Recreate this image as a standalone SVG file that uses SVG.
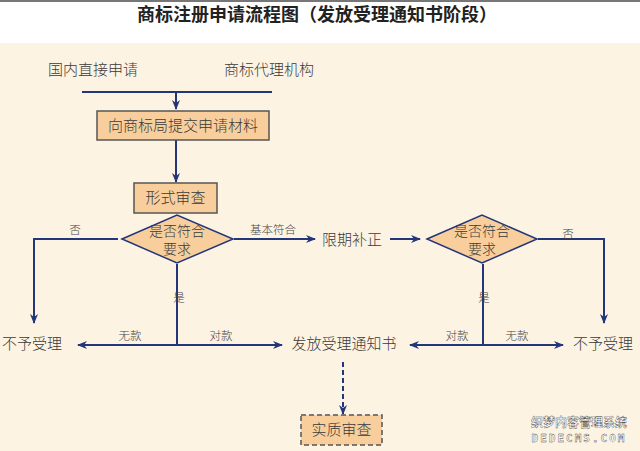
<svg xmlns="http://www.w3.org/2000/svg" width="640" height="451" viewBox="0 0 640 451">
<defs>
<marker id="arr" viewBox="0 0 10 10" refX="9" refY="5" markerWidth="10" markerHeight="10" markerUnits="userSpaceOnUse" orient="auto">
<path d="M0,1 L10,5 L0,9 L3,5 Z" fill="#23367a"/>
</marker>
<style>
.t{font-family:"Liberation Serif","Noto Sans CJK SC",serif;fill:#3a3a3a;font-weight:300;}
.n{font-size:15px;}
.d{font-size:14px;}
.s{font-size:11.5px;fill:#444;}
.ln{stroke:#23367a;stroke-width:2;fill:none;}
.bx{fill:#f8cf9c;stroke:#555;stroke-width:1.5;}
.dm{fill:#f8cf9c;stroke:#23367a;stroke-width:1.5;}
</style>
</defs>
<rect x="0" y="0" width="640" height="451" fill="#ffffff"/>
<rect x="0" y="0" width="640" height="2" fill="#777"/>
<rect x="0" y="43" width="640" height="408" fill="#fdf3e3"/>
<text x="317" y="21" text-anchor="middle" font-family="Liberation Serif,Noto Sans CJK SC,serif" font-size="18" font-weight="bold" fill="#222">商标注册申请流程图（发放受理通知书阶段）</text>

<g id="connectors">
<line class="ln" x1="82" y1="92" x2="272" y2="92" stroke="#555a80"/>
<line class="ln" x1="176" y1="92" x2="176" y2="109" marker-end="url(#arr)"/>
<line class="ln" x1="176" y1="140" x2="176" y2="182" marker-end="url(#arr)"/>
<polyline class="ln" points="118,239 34,239 34,323" marker-end="url(#arr)"/>
<line class="ln" x1="234" y1="239" x2="315" y2="239" marker-end="url(#arr)"/>
<line class="ln" x1="390" y1="239" x2="420" y2="239" marker-end="url(#arr)"/>
<polyline class="ln" points="538,239 604,239 604,323" marker-end="url(#arr)"/>
<line class="ln" x1="177" y1="264" x2="177" y2="345"/>
<line class="ln" x1="177" y1="345" x2="78" y2="345" marker-end="url(#arr)"/>
<line class="ln" x1="177" y1="345" x2="282" y2="345" marker-end="url(#arr)"/>
<line class="ln" x1="483" y1="264" x2="483" y2="345"/>
<line class="ln" x1="483" y1="345" x2="410" y2="345" marker-end="url(#arr)"/>
<line class="ln" x1="483" y1="345" x2="563" y2="345" marker-end="url(#arr)"/>
<line class="ln" x1="343" y1="362" x2="343" y2="414" stroke-dasharray="5,3" marker-end="url(#arr)"/>
<text class="t s" x="75" y="234" text-anchor="middle">否</text>
<text class="t s" x="273" y="234" text-anchor="middle">基本符合</text>
<text class="t s" x="568" y="238" text-anchor="middle">否</text>
<text class="t s" x="179" y="302" text-anchor="middle">是</text>
<text class="t s" x="484" y="302" text-anchor="middle">是</text>
<text class="t s" x="130" y="340" text-anchor="middle">无款</text>
<text class="t s" x="221" y="340" text-anchor="middle">对款</text>
<text class="t s" x="457" y="340" text-anchor="middle">对款</text>
<text class="t s" x="517" y="340" text-anchor="middle">无款</text>
</g>

<g id="src1"><text class="t n" x="93" y="75" text-anchor="middle">国内直接申请</text></g>
<g id="src2"><text class="t n" x="269" y="75" text-anchor="middle">商标代理机构</text></g>
<g id="submit">
<rect class="bx" x="97" y="111" width="172" height="29"/>
<text class="t n" x="183" y="131" text-anchor="middle">向商标局提交申请材料</text>
</g>
<g id="formal">
<rect class="bx" x="134" y="183" width="83" height="30"/>
<text class="t n" x="175.5" y="203" text-anchor="middle">形式审查</text>
</g>
<g id="check1">
<polygon class="dm" points="122,239 177,215 233,239 177,263"/>
<text class="t d" x="177" y="236" text-anchor="middle">是否符合</text>
<text class="t d" x="177" y="254" text-anchor="middle">要求</text>
</g>
<g id="correct"><text class="t n" x="352" y="245" text-anchor="middle">限期补正</text></g>
<g id="check2">
<polygon class="dm" points="427,239 482,215 537,239 482,263"/>
<text class="t d" x="482" y="236" text-anchor="middle">是否符合</text>
<text class="t d" x="482" y="254" text-anchor="middle">要求</text>
</g>
<g id="reject1"><text class="t n" x="32" y="349" text-anchor="middle">不予受理</text></g>
<g id="notice"><text class="t n" x="344" y="349" text-anchor="middle">发放受理通知书</text></g>
<g id="reject2"><text class="t n" x="603" y="349" text-anchor="middle">不予受理</text></g>
<g id="substantive">
<rect class="bx" x="301" y="415" width="81" height="30" stroke-dasharray="5,3"/>
<text class="t n" x="341.5" y="435" text-anchor="middle">实质审查</text>
</g>
<g id="watermark">
<text x="579" y="427" text-anchor="middle" font-family="Noto Sans CJK SC,sans-serif" font-size="12" font-weight="bold" fill="#fff" stroke="#333" stroke-width="0.35">织梦内容管理系统</text>
<text x="579" y="442" text-anchor="middle" font-family="DejaVu Sans Mono,monospace" font-size="11" font-weight="bold" fill="#fff" stroke="#333" stroke-width="0.35" letter-spacing="2">DEDECMS.COM</text>
</g>
</svg>
